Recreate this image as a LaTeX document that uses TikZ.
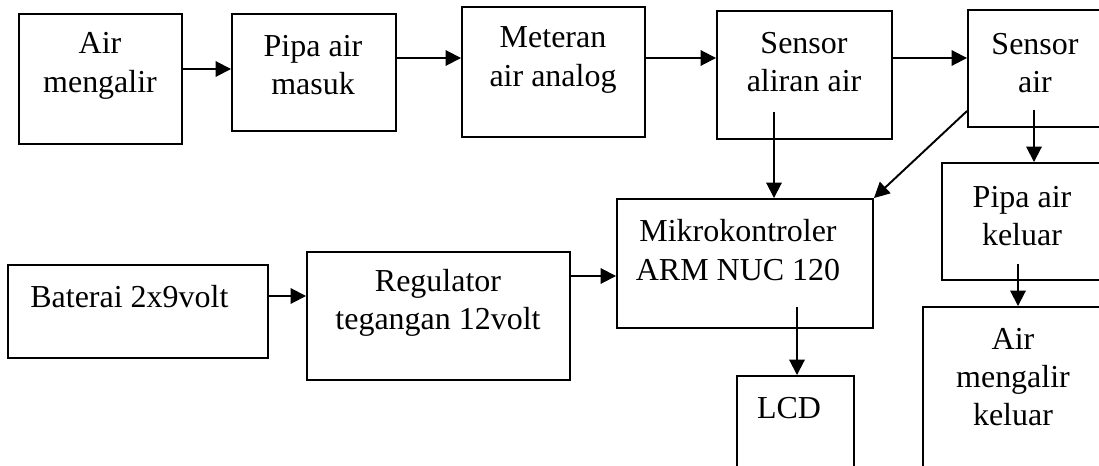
\documentclass[tikz,border=0pt]{standalone}
\usepackage{fontspec}
\setmainfont{Liberation Serif}
\usetikzlibrary{arrows.meta,fit}

\tikzset{
  blok/.style={draw, line width=1.1pt, inner sep=0pt},
  tulisan/.style={align=center, inner sep=0pt, font=\fontsize{18.2}{21.8}\selectfont},
  panah/.style={line width=1.1pt, -{Triangle[length=8.8pt,width=8.8pt]}}
}

\begin{document}
\begin{tikzpicture}[x=0.02cm,y=-0.02cm]
\clip (0,0) rectangle (1099,466);
% baris atas
\node[blok, fit={(19,14) (182,144)}] (airmasuk) {};
\node[tulisan] (tairmasuk) at (100,66) {Air\\mengalir};
\node[blok, fit={(232,14) (396,131)}] (pipamasuk) {};
\node[tulisan] (tpipamasuk) at (313,65) {Pipa air\\masuk};
\node[blok, fit={(462,7) (645,137)}] (meteran) {};
\node[tulisan] (tmeteran) at (553,60) {Meteran\\air analog};
\node[blok, fit={(717,11) (892,139)}] (aliran) {};
\node[tulisan] (taliran) at (804,62) {Sensor\\aliran air};
\node[blok, fit={(968,10) (1120,127)}] (sensorair) {};
\node[tulisan] (tsensorair) at (1035,63) {Sensor\\air};
% kanan
\node[blok, fit={(942,163) (1120,280)}] (pipakeluar) {};
\node[tulisan] (tpipakeluar) at (1022,216) {Pipa air\\keluar};
\node[blok, fit={(923,307) (1120,480)}] (airkeluar) {};
\node[tulisan] (tairkeluar) at (1013,377) {Air\\mengalir\\keluar};
% tengah
\node[blok, fit={(617,199) (873,328)}] (mikro) {};
\node[tulisan] (tmikro) at (738,250) {Mikrokontroler\\ARM NUC 120};
\node[blok, fit={(737,376) (854,480)}] (lcd) {};
\node[tulisan] (tlcd) at (789,408) {LCD};
\node[blok, fit={(8,265) (268,358)}] (baterai) {};
\node[tulisan, anchor=west] (tbaterai) at (30,297) {Baterai 2x9volt};
\node[blok, fit={(307,252) (570,380)}] (regulator) {};
\node[tulisan] (tregulator) at (438,303) {Regulator\\tegangan 12volt};

% panah
\coordinate (awalD) at (774,112);
\coordinate (awalE) at (1034,110);
\coordinate (awalP) at (1018,264);
\coordinate (awalM) at (797,307);
\draw[panah] (airmasuk.east |- 0,69) -- (pipamasuk.west |- 0,69);
\draw[panah] (pipamasuk.east |- 0,58) -- (meteran.west |- 0,58);
\draw[panah] (meteran.east |- 0,58) -- (aliran.west |- 0,58);
\draw[panah] (aliran.east |- 0,58) -- (sensorair.west |- 0,58);
\draw[panah] (awalD) -- (awalD |- mikro.north);
\draw[panah] (sensorair.west |- 0,111) -- (mikro.north east);
\draw[panah] (awalE) -- (awalE |- pipakeluar.north);
\draw[panah] (awalP) -- (awalP |- airkeluar.north);
\draw[panah] (baterai.east |- 0,296) -- (regulator.west |- 0,296);
\draw[panah] (regulator.east |- 0,276) -- (mikro.west |- 0,276);
\draw[panah] (awalM) -- (awalM |- lcd.north);
\end{tikzpicture}
\end{document}
